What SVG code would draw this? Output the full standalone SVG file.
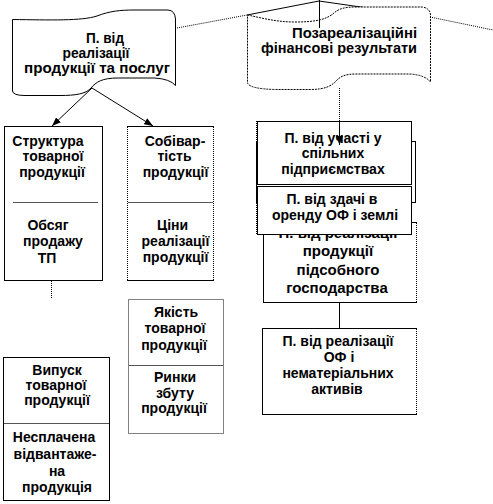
<svg xmlns="http://www.w3.org/2000/svg" width="493" height="504" viewBox="0 0 493 504">
<style>
.bx{fill:#fff;stroke:#000;stroke-width:1}
.dt{fill:none;stroke:#000;stroke-width:1;stroke-dasharray:1 1}
.sl{fill:none;stroke:#000;stroke-width:1}
.dv{stroke:#555;stroke-width:1}
.t{font-family:"Liberation Sans",Arial,sans-serif;font-weight:bold;font-size:14px;text-anchor:middle;fill:#000}
.t15{font-size:15px}
</style>
<defs>
<marker id="ah" markerUnits="userSpaceOnUse" markerWidth="9" markerHeight="7" refX="9" refY="3.5" orient="auto">
<path d="M0,0 L9,3.5 L0,7 z" fill="#000"/>
</marker>
</defs>
<rect width="493" height="504" fill="#fff"/>

<g id="connectors">
<line class="dt" x1="177" y1="28" x2="247" y2="15"/>
<line class="sl" x1="247" y1="15" x2="319" y2="1"/>
<line class="sl" x1="319" y1="1" x2="430" y2="17"/>
<line class="dt" x1="430" y1="17" x2="493" y2="30"/>
<line class="sl" x1="319.5" y1="0" x2="319.5" y2="28"/>
<line class="sl" x1="92" y1="88" x2="52" y2="126" marker-end="url(#ah)"/>
<line class="sl" x1="92" y1="88" x2="153" y2="126" marker-end="url(#ah)"/>
<line class="dt" x1="51.5" y1="281" x2="51.5" y2="298"/>
<line class="dt" x1="339.5" y1="88" x2="339.5" y2="122"/>
<line class="sl" x1="339.5" y1="302" x2="339.5" y2="328"/>
</g>

<g id="banner-left">
<path class="bx" d="M12.5,19.5 C50,20 82,21 97,16 C110,11 120,10 135,10 L168,10 Q175,10.5 175.5,19 L175.5,85.5 Q170,79 155,78 L118,78 C102,78 96,82 91,88 C86,94 75,95.5 60,95.5 L25,95.5 Q13,95.5 12.5,91 Z"/>
<text class="t" x="105" y="43" textLength="38" lengthAdjust="spacingAndGlyphs">П. від</text>
<text class="t" x="96" y="58" textLength="67" lengthAdjust="spacingAndGlyphs">реалізації</text>
<text class="t" x="97" y="73" textLength="146" lengthAdjust="spacingAndGlyphs">продукції та послуг</text>
</g>

<g id="banner-right">
<path class="bx" stroke-dasharray="2 1" d="M247.5,15 C262,18 276,22 295,22 C314,22 326,20 334,13 C339,8.5 345,7 356,7 L422,7 Q430,8 430.5,15 L430.5,82 Q425,75 410,74 L356,74 C346,74 341,76 337,80 C332,86 325,89.5 310,89.5 L276,89.5 Q250,89 247.5,83 Z"/>
<line class="sl" x1="319.5" y1="7" x2="319.5" y2="28"/>
<text class="t" style="text-anchor:end" x="417" y="38" textLength="125" lengthAdjust="spacingAndGlyphs">Позареалізаційні</text>
<text class="t" style="text-anchor:end" x="417" y="53" textLength="156" lengthAdjust="spacingAndGlyphs">фінансові результати</text>
</g>

<g id="box-structure">
<rect class="bx" x="4.5" y="126.5" width="98" height="154"/>
<line class="dv" x1="13" y1="202.5" x2="98" y2="202.5"/>
<text class="t" x="48" y="146">Структура</text>
<text class="t" x="53" y="161">товарної</text>
<text class="t" x="52" y="177">продукції</text>
<text class="t" x="48" y="230">Обсяг</text>
<text class="t" x="53" y="246">продажу</text>
<text class="t" x="47" y="263">ТП</text>
</g>

<g id="box-cost">
<rect class="bx" x="127.5" y="126.5" width="86" height="154"/>
<line x1="127.5" y1="127" x2="127.5" y2="280" stroke="#fff"/>
<line class="dt" x1="127.5" y1="127" x2="127.5" y2="280"/>
<line x1="213.5" y1="127" x2="213.5" y2="280" stroke="#fff"/>
<line class="dt" x1="213.5" y1="127" x2="213.5" y2="280"/>
<line class="dv" x1="128" y1="202.5" x2="213" y2="202.5"/>
<text class="t" x="175" y="146">Собівар-</text>
<text class="t" x="174.5" y="161">тість</text>
<text class="t" x="175.5" y="177">продукції</text>
<text class="t" x="172.5" y="230">Ціни</text>
<text class="t" x="175.5" y="246">реалізації</text>
<text class="t" x="175.5" y="262">продукції</text>
</g>

<g id="box-quality">
<rect class="bx" x="128.5" y="299.5" width="95" height="134" stroke-dasharray="1 1"/>
<line class="dv" x1="129" y1="365.5" x2="223" y2="365.5"/>
<text class="t" x="176" y="317">Якість</text>
<text class="t" x="175" y="333">товарної</text>
<text class="t" x="174" y="350">продукції</text>
<text class="t" x="175" y="382">Ринки</text>
<text class="t" x="175" y="398">збуту</text>
<text class="t" x="174" y="413">продукції</text>
</g>

<g id="box-output">
<rect class="bx" x="3.5" y="357.5" width="106" height="143"/>
<line class="dv" x1="4" y1="423.5" x2="109" y2="423.5"/>
<text class="t" x="57" y="375">Випуск</text>
<text class="t" x="56" y="390">товарної</text>
<text class="t" x="57" y="405">продукції</text>
<text class="t" x="54" y="442">Несплачена</text>
<text class="t" x="55" y="459">відвантаже-</text>
<text class="t" x="57" y="476">на</text>
<text class="t" x="57" y="492">продукція</text>
</g>

<g id="box-behind">
<rect class="bx" x="256.5" y="141.5" width="159" height="61"/>
<line class="dt" x1="256.5" y1="121" x2="256.5" y2="234"/>
</g>

<g id="box-auxiliary">
<rect class="bx" x="263.5" y="222.5" width="153" height="80"/>
<line x1="416.5" y1="223" x2="416.5" y2="302" stroke="#fff"/>
<line class="dt" x1="416.5" y1="223" x2="416.5" y2="302"/>
<text class="t t15" x="338" y="238">П. від реалізації</text>
<text class="t t15" x="338" y="256">продукції</text>
<text class="t t15" x="338" y="275">підсобного</text>
<text class="t t15" x="337" y="293">господарства</text>
</g>

<g id="box-joint">
<rect class="bx" x="257.5" y="121.5" width="154" height="63"/>
<text class="t" x="333" y="143">П. від участі у</text>
<text class="t" x="333" y="158">спільних</text>
<text class="t" x="333" y="174">підприємствах</text>
<line class="sl" x1="339.5" y1="121" x2="339.5" y2="145" stroke="#444" marker-end="url(#ah)"/>
</g>

<g id="box-rent">
<rect class="bx" x="257.5" y="186.5" width="154" height="48"/>
<text class="t" x="332" y="204">П. від здачі в</text>
<text class="t" x="335" y="220">оренду ОФ і землі</text>
</g>

<g id="box-assets">
<rect class="bx" x="262.5" y="328.5" width="154" height="86"/>
<line x1="416.5" y1="329" x2="416.5" y2="414" stroke="#fff"/>
<line class="dt" x1="416.5" y1="329" x2="416.5" y2="414"/>
<text class="t" x="338" y="346">П. від реалізації</text>
<text class="t" x="339" y="362">ОФ і</text>
<text class="t" x="338" y="378">нематеріальних</text>
<text class="t" x="337" y="394">активів</text>
</g>
</svg>
